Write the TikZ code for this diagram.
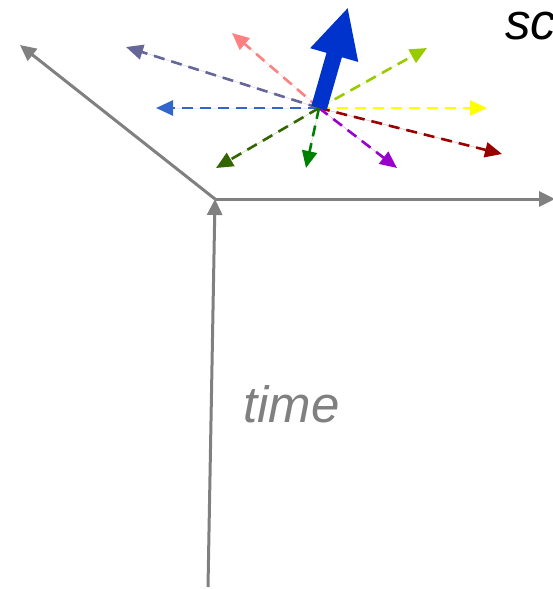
\documentclass[tikz,border=0pt]{standalone}
\usepackage{fontspec}
\setmainfont{Liberation Sans}
\usetikzlibrary{arrows.meta}
\definecolor{axgray}{HTML}{808080}
\definecolor{vslate}{HTML}{666699}
\definecolor{vpink}{HTML}{FF8080}
\definecolor{vblue}{HTML}{3366CC}
\definecolor{vlime}{HTML}{99CC00}
\definecolor{vyellow}{HTML}{FFFF00}
\definecolor{vred}{HTML}{990000}
\definecolor{vpurple}{HTML}{9900CC}
\definecolor{vgreen}{HTML}{008000}
\definecolor{vdkgreen}{HTML}{336600}
\definecolor{bigblue}{HTML}{0033CC}

\begin{document}
\begin{tikzpicture}[
  x=1pt, y=-1pt,
  axis/.style={draw=axgray, line width=3pt, -{Triangle[length=16pt,width=15pt]}},
  velo/.style={line width=2.6pt, dash pattern=on 11pt off 7pt,
    -{Triangle[length=17pt,width=15pt]}},
]
\useasboundingbox (0,0) rectangle (553,589);
\clip (0,0) rectangle (553,589);
% ---------- axes ----------
\coordinate (O) at (215,199);
\coordinate (xend) at (555,199);
\coordinate (yend) at (20,45);
\coordinate (tbot) at (208,587);
\draw[axis] (O) -- (xend);
\draw[axis] (O) -- (yend);
\draw[axis] (tbot) -- (O);
\node[font=\fontsize{51}{51}\selectfont\itshape, text=axgray, anchor=base west, inner sep=0pt]
  (tlab) at (243,422) {time};
\node[font=\fontsize{51}{51}\selectfont\itshape, anchor=base west, inner sep=0pt]
  (slab) at (505,39) {sc};

% ---------- spread of velocities ----------
\coordinate (c) at (319,108);
\foreach \col/\px/\py in {vslate/126/47, vpink/232/33, vblue/156/108,
    vlime/427/48, vyellow/487/108, vred/502/154, vpurple/397/168,
    vgreen/306/168, vdkgreen/216/168} {
  \coordinate (tip-\col) at (\px,\py);
  \draw[velo, draw=\col, fill=\col] (c) -- (tip-\col);
}
\coordinate (bigtip) at (348,7);
\draw[bigblue, line width=16pt, -{Triangle[length=50pt,width=46pt]}] (c) -- (bigtip);
\end{tikzpicture}
\end{document}
